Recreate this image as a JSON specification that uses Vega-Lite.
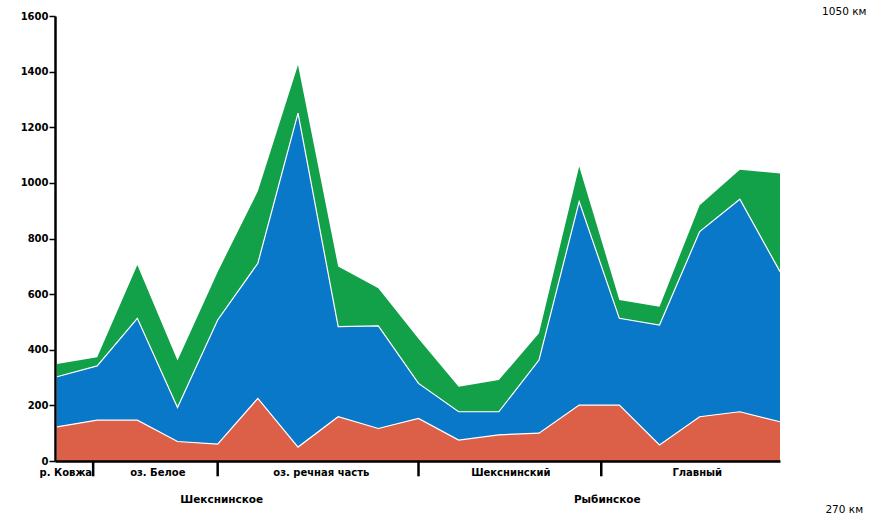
{
  "$schema": "https://vega.github.io/schema/vega-lite/v6.json",
  "width": 725,
  "height": 445,
  "autosize": {"type": "none"},
  "padding": {"left": 55, "top": 16, "right": 105, "bottom": 66},
  "background": "white",
  "config": {"view": {"stroke": null}, "font": "DejaVu Sans"},
  "datasets": {
    "flow": [
      {"i": 0, "s": "s1", "v": 123}, {"i": 0, "s": "s2", "v": 180}, {"i": 0, "s": "s3", "v": 46},
      {"i": 1, "s": "s1", "v": 147}, {"i": 1, "s": "s2", "v": 195}, {"i": 1, "s": "s3", "v": 31},
      {"i": 2, "s": "s1", "v": 147}, {"i": 2, "s": "s2", "v": 366}, {"i": 2, "s": "s3", "v": 192},
      {"i": 3, "s": "s1", "v": 70}, {"i": 3, "s": "s2", "v": 122}, {"i": 3, "s": "s3", "v": 169},
      {"i": 4, "s": "s1", "v": 61}, {"i": 4, "s": "s2", "v": 446}, {"i": 4, "s": "s3", "v": 173},
      {"i": 5, "s": "s1", "v": 225}, {"i": 5, "s": "s2", "v": 486}, {"i": 5, "s": "s3", "v": 259},
      {"i": 6, "s": "s1", "v": 50}, {"i": 6, "s": "s2", "v": 1201}, {"i": 6, "s": "s3", "v": 173},
      {"i": 7, "s": "s1", "v": 159}, {"i": 7, "s": "s2", "v": 324}, {"i": 7, "s": "s3", "v": 216},
      {"i": 8, "s": "s1", "v": 117}, {"i": 8, "s": "s2", "v": 369}, {"i": 8, "s": "s3", "v": 135},
      {"i": 9, "s": "s1", "v": 153}, {"i": 9, "s": "s2", "v": 126}, {"i": 9, "s": "s3", "v": 161},
      {"i": 10, "s": "s1", "v": 75}, {"i": 10, "s": "s2", "v": 102}, {"i": 10, "s": "s3", "v": 90},
      {"i": 11, "s": "s1", "v": 94}, {"i": 11, "s": "s2", "v": 83}, {"i": 11, "s": "s3", "v": 114},
      {"i": 12, "s": "s1", "v": 100}, {"i": 12, "s": "s2", "v": 263}, {"i": 12, "s": "s3", "v": 96},
      {"i": 13, "s": "s1", "v": 201}, {"i": 13, "s": "s2", "v": 732}, {"i": 13, "s": "s3", "v": 126},
      {"i": 14, "s": "s1", "v": 201}, {"i": 14, "s": "s2", "v": 312}, {"i": 14, "s": "s3", "v": 66},
      {"i": 15, "s": "s1", "v": 58}, {"i": 15, "s": "s2", "v": 431}, {"i": 15, "s": "s3", "v": 66},
      {"i": 16, "s": "s1", "v": 159}, {"i": 16, "s": "s2", "v": 666}, {"i": 16, "s": "s3", "v": 95},
      {"i": 17, "s": "s1", "v": 177}, {"i": 17, "s": "s2", "v": 764}, {"i": 17, "s": "s3", "v": 106},
      {"i": 18, "s": "s1", "v": 141}, {"i": 18, "s": "s2", "v": 540}, {"i": 18, "s": "s3", "v": 353}
    ],
    "bounds": [{"b": 0.9}, {"b": 4}, {"b": 9}, {"b": 13.55}],
    "sections": [
      {"x": 0.22, "name": "р. Ковжа"},
      {"x": 2.51, "name": "оз. Белое"},
      {"x": 6.58, "name": "оз. речная часть"},
      {"x": 11.3, "name": "Шекснинский"},
      {"x": 15.94, "name": "Главный"}
    ],
    "reservoirs": [
      {"x": 4.1, "name": "Шекснинское"},
      {"x": 13.7, "name": "Рыбинское"}
    ]
  },
  "layer": [
    {
      "data": {"name": "flow"},
      "transform": [
        {"stack": "v", "groupby": ["i"], "sort": [{"field": "s", "order": "ascending"}], "as": ["y0", "y1"]}
      ],
      "mark": {"type": "area"},
      "encoding": {
        "x": {
          "field": "i", "type": "quantitative",
          "scale": {"domain": [-0.05, 18], "nice": false, "zero": false},
          "axis": {"domain": true, "domainColor": "black", "domainWidth": 2.5, "ticks": false, "labels": false, "grid": false, "title": null, "zindex": 1}
        },
        "y": {
          "field": "y1", "type": "quantitative",
          "scale": {"domain": [0, 1600], "nice": false},
          "axis": {
            "values": [0, 200, 400, 600, 800, 1000, 1200, 1400, 1600],
            "format": "d",
            "domain": true, "domainColor": "black", "domainWidth": 2.5,
            "tickColor": "black", "tickWidth": 1.5, "tickSize": 6,
            "labelFont": "DejaVu Sans", "labelFontWeight": "bold", "labelFontSize": 10,
            "labelColor": "black", "labelPadding": 1, "labelFlush": false,
            "grid": false, "title": null, "zindex": 1
          }
        },
        "y2": {"field": "y0"},
        "color": {
          "field": "s", "type": "nominal",
          "scale": {"domain": ["s1", "s2", "s3"], "range": ["#DC5F48", "#0A78C8", "#12A048"]},
          "legend": null
        }
      }
    },
    {
      "data": {"name": "flow"},
      "transform": [
        {"stack": "v", "groupby": ["i"], "sort": [{"field": "s", "order": "ascending"}], "as": ["y0", "y1"]},
        {"filter": "datum.s !== 's3'"}
      ],
      "mark": {"type": "line", "color": "white", "strokeWidth": 1.2},
      "encoding": {
        "x": {"field": "i", "type": "quantitative"},
        "y": {"field": "y1", "type": "quantitative"},
        "detail": {"field": "s"}
      }
    },
    {
      "data": {"name": "bounds"},
      "mark": {"type": "rule", "color": "black", "strokeWidth": 2.5},
      "encoding": {
        "x": {"field": "b", "type": "quantitative"},
        "y": {"datum": 0},
        "y2": {"datum": -55}
      }
    },
    {
      "data": {"name": "sections"},
      "mark": {"type": "text", "font": "DejaVu Sans", "fontWeight": "bold", "fontSize": 10, "color": "black", "baseline": "middle", "align": "center"},
      "encoding": {
        "x": {"field": "x", "type": "quantitative"},
        "y": {"datum": -42},
        "text": {"field": "name"}
      }
    },
    {
      "data": {"name": "reservoirs"},
      "mark": {"type": "text", "font": "DejaVu Sans", "fontWeight": "bold", "fontSize": 10.5, "color": "black", "baseline": "middle", "align": "center"},
      "encoding": {
        "x": {"field": "x", "type": "quantitative"},
        "y": {"datum": -140},
        "text": {"field": "name"}
      }
    },
    {
      "data": {"values": [{"name": "1050 км"}]},
      "mark": {"type": "text", "font": "DejaVu Sans", "fontSize": 10.5, "color": "black", "baseline": "middle", "align": "center"},
      "encoding": {
        "x": {"datum": 19.6},
        "y": {"datum": 1616},
        "text": {"field": "name"}
      }
    },
    {
      "data": {"values": [{"name": "270 км"}]},
      "mark": {"type": "text", "font": "DejaVu Sans", "fontSize": 10.5, "color": "black", "baseline": "middle", "align": "center"},
      "encoding": {
        "x": {"datum": 19.6},
        "y": {"datum": -176},
        "text": {"field": "name"}
      }
    }
  ]
}
